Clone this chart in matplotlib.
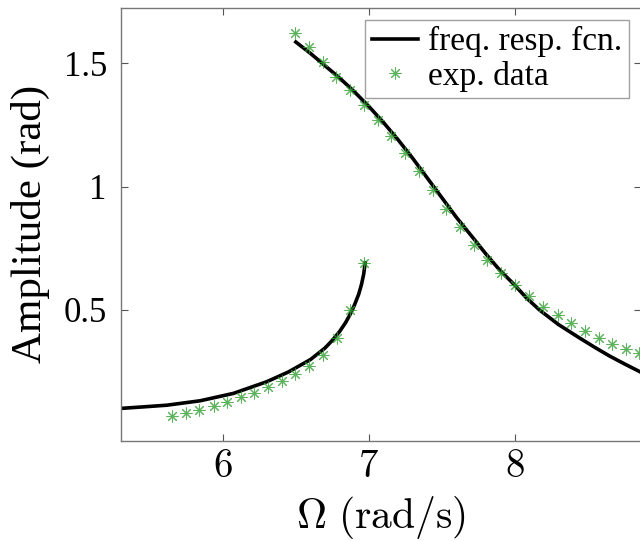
import numpy as np
import matplotlib.pyplot as plt

plt.rcParams['font.family'] = ['Liberation Serif', 'DejaVu Serif']
plt.rcParams['mathtext.fontset'] = 'cm'

# frequency response function, lower and upper branch
w_low = [5.30, 5.45, 5.617, 5.845, 6.073, 6.30, 6.45, 6.60, 6.70, 6.75, 6.80, 6.84,
         6.87, 6.90, 6.93, 6.95, 6.965, 6.975]
a_low = [0.100, 0.106, 0.113, 0.131, 0.161, 0.208, 0.248, 0.298, 0.345, 0.376, 0.412, 0.447,
         0.479, 0.517, 0.562, 0.603, 0.645, 0.69]
w_up = [6.50, 6.60, 6.70, 6.80, 6.90, 7.00, 7.10, 7.20, 7.30, 7.40, 7.50, 7.60, 7.726,
        7.80, 7.897, 8.00, 8.08, 8.17, 8.30, 8.443, 8.55, 8.648, 8.75, 8.86]
a_up = [1.586, 1.54, 1.49, 1.44, 1.385, 1.325, 1.26, 1.19, 1.115, 1.035, 0.955, 0.875, 0.783,
        0.728, 0.661, 0.60, 0.548, 0.499, 0.44, 0.386, 0.347, 0.313, 0.281, 0.248]

# experimental data
w_exp_low = [5.651, 5.747, 5.838, 5.936, 6.027, 6.127, 6.214, 6.312, 6.403, 6.497,
             6.591, 6.685, 6.779, 6.873, 6.967]
a_exp_low = [0.070, 0.081, 0.095, 0.108, 0.125, 0.148, 0.164, 0.188, 0.211, 0.238,
             0.272, 0.318, 0.385, 0.50, 0.69]
w_exp_up = [6.494, 6.588, 6.683, 6.777, 6.871, 6.966, 7.060, 7.154, 7.248, 7.343, 7.437,
            7.531, 7.626, 7.720, 7.813, 7.907, 8.003, 8.097, 8.196, 8.297, 8.383, 8.481,
            8.574, 8.668, 8.764, 8.853]
a_exp_up = [1.621, 1.565, 1.505, 1.445, 1.39, 1.33, 1.268, 1.203, 1.135, 1.062, 0.985,
            0.91, 0.835, 0.762, 0.702, 0.649, 0.60, 0.555, 0.512, 0.478, 0.445, 0.414,
            0.387, 0.362, 0.340, 0.325]

fig = plt.figure(figsize=(6.4, 5.41), dpi=100)
ax = fig.add_axes([120.7 / 640, (541 - 440.7) / 541, (641 - 120.7) / 640, (440.7 - 8) / 541])

ax.plot(w_low, a_low, color='black', lw=2.6, label='freq. resp. fcn.')
ax.plot(w_up, a_up, color='black', lw=2.6)
ax.plot(w_exp_low, a_exp_low, ls='none', marker=(8, 2, 0), ms=8.5, mew=0.75,
        color='#33a033', alpha=0.8, label='exp. data')
ax.plot(w_exp_up, a_exp_up, ls='none', marker=(8, 2, 0), ms=8.5, mew=0.75,
        color='#33a033', alpha=0.8)

ax.set_xlim(5.30, 8.865)
ax.set_ylim(-0.031, 1.724)
ax.set_xticks([6, 7, 8])
ax.set_xticklabels(['$6$', '$7$', '$8$'])
ax.set_yticks([0.5, 1, 1.5])
ax.set_yticklabels(['0.5', '1', '1.5'])
ax.tick_params(direction='in', top=True, right=True, length=5, width=0.8,
               color='#555555')
ax.tick_params(axis='x', labelsize=28, pad=6)
ax.tick_params(axis='y', labelsize=25, pad=10)
for s in ax.spines.values():
    s.set_color('#777777')
    s.set_linewidth(1.0)

ax.set_xlabel(r'$\Omega\ (\mathrm{rad/s})$', fontsize=30, labelpad=6)
ax.set_ylabel('Amplitude (rad)', fontsize=31, labelpad=10)

leg = ax.legend(loc='upper right', fontsize=24, frameon=True, fancybox=False,
                edgecolor='#888888', handlelength=1.4, borderpad=0.2,
                labelspacing=0.1, handletextpad=0.3, borderaxespad=0.35)
leg.get_frame().set_linewidth(1.0)

fig.savefig('out.png', dpi=100)
